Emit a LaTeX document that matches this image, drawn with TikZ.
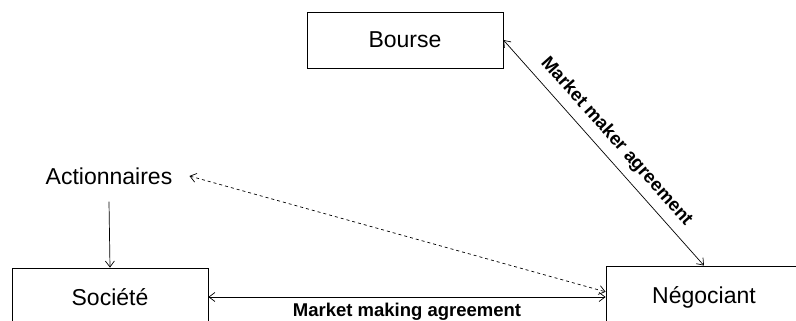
\documentclass[tikz,border=0pt]{standalone}
\usepackage{fontspec}
\setmainfont{Liberation Sans}
\usetikzlibrary{positioning, arrows.meta}

\begin{document}
\begin{tikzpicture}[x=1pt, y=-1pt,
  >={Straight Barb[length=6pt, width=9pt]},
  box/.style={draw, line width=0.8pt, minimum width=196pt, font=\fontsize{23}{27}\selectfont},
  word/.style={font=\fontsize{23}{27}\selectfont, inner sep=17pt},
  deal/.style={font=\bfseries\fontsize{18.5}{21}\selectfont, inner sep=2pt}]
\useasboundingbox (0,0) rectangle (796,321);
\clip (0,0) rectangle (796,321);

\node[box, minimum height=56pt] (bourse) at (405,40) {Bourse};
\node[word] (actionnaires) at (109,176) {Actionnaires};
\node[box, minimum height=58pt] (societe) at (110,297) {Société};
\node[box, minimum height=62pt] (negociant) at (704,297) {Négociant};

\path[line width=0.7pt]
		(bourse.east) edge [<->] node [deal, sloped, above=6pt, pos=0.5] {Market maker agreement} (negociant.north)
		(actionnaires.south) edge [->] (societe.north)
		(societe.east) edge [<->] node [deal, below=4pt] {Market making agreement} (negociant.west)
		(actionnaires.east) edge [<->, dashed] (negociant.177);

\end{tikzpicture}
\end{document}
